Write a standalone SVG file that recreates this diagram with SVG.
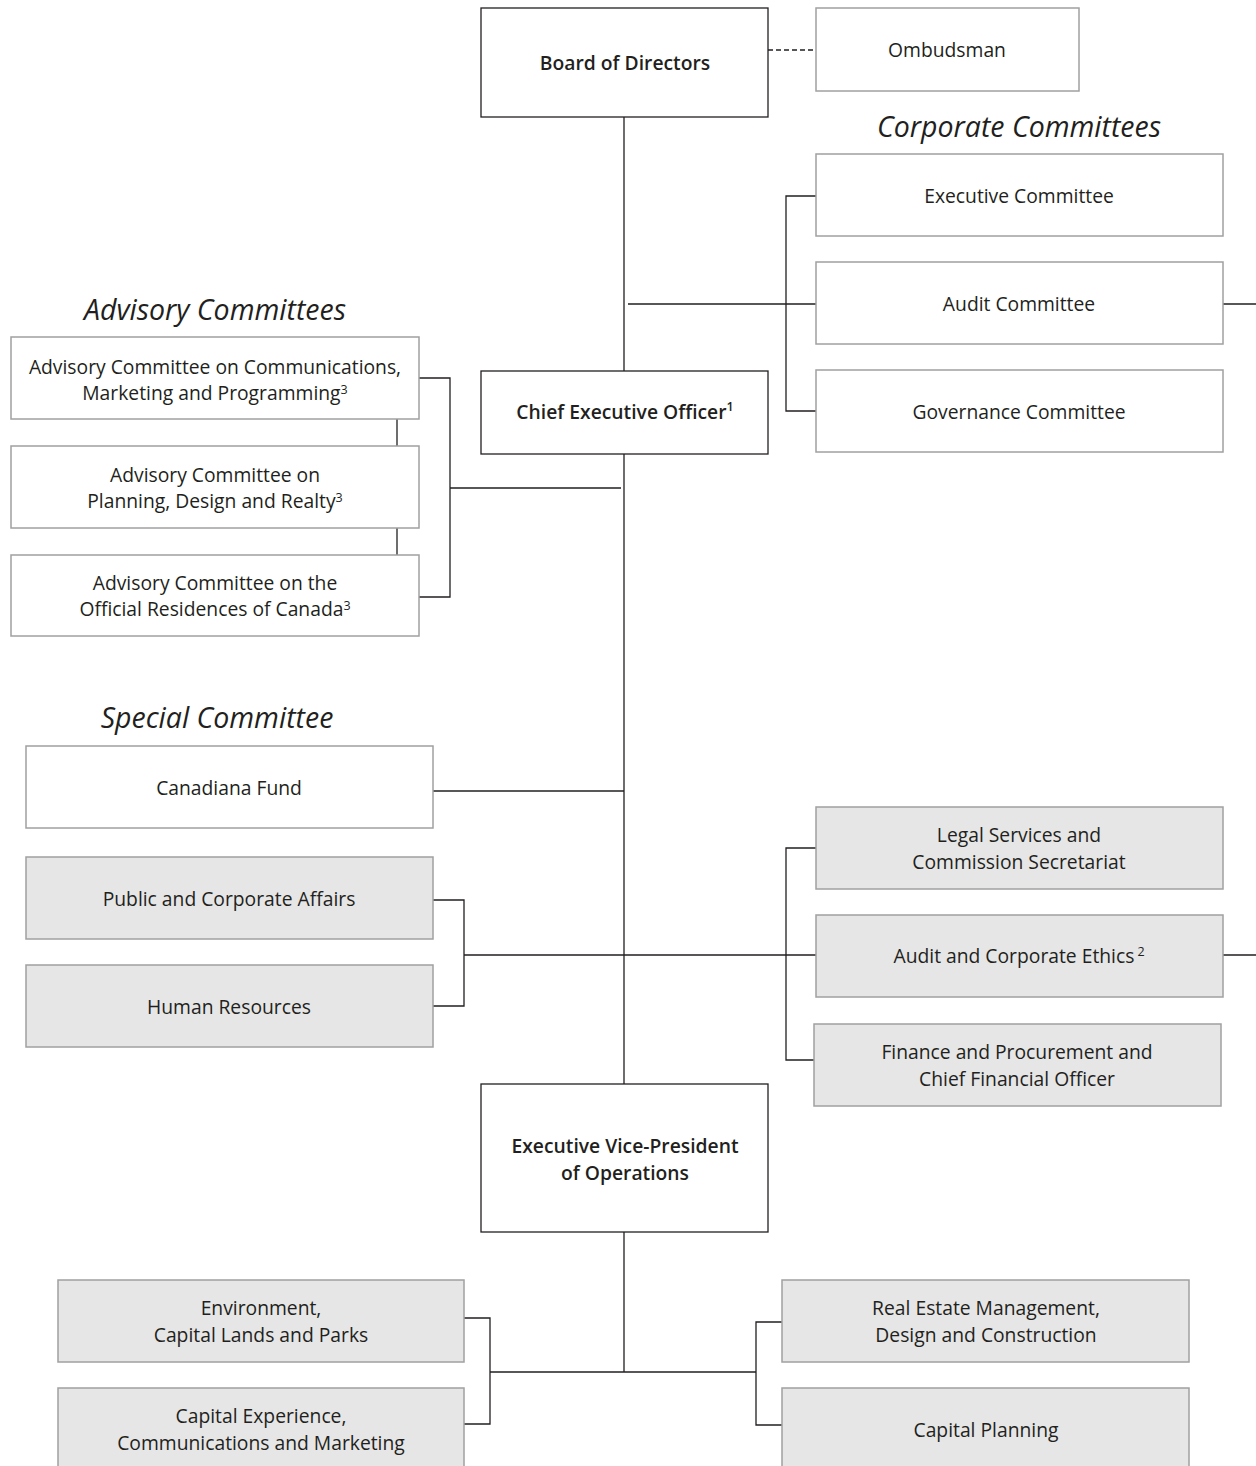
<svg xmlns="http://www.w3.org/2000/svg" width="1256" height="1466" viewBox="0 0 1256 1466">
<style>
text{font-family:"Open Sans","Noto Sans","Liberation Sans",sans-serif;font-size:19.3px;fill:#231f20;text-anchor:middle}
.b{font-weight:600}
.h{font-style:italic;font-size:28.5px}
.sup{font-size:12.5px}
.main{fill:#fff;stroke:#231f20;stroke-width:1.3}
.w{fill:#fff;stroke:#a0a0a0;stroke-width:1.5}
.g{fill:#e6e6e6;stroke:#a0a0a0;stroke-width:1.5}
.c{fill:none;stroke:#231f20;stroke-width:1.3}
</style>
<rect width="1256" height="1466" fill="#fff"/>
<g id="connectors">
<path class="c" d="M768 50H816" stroke-dasharray="5,3"/>
<path class="c" d="M624 117V371M624 454V1084M624 1232V1372"/>
<path class="c" d="M628 304H816M816 196H786V411H816M1223 304H1256"/>
<path class="c" d="M419 378H450V597H419M450 488H621M397 419V446M397 528V555"/>
<path class="c" d="M433 791H624"/>
<path class="c" d="M433 900H464V1006H433M464 955H816M816 848H786V1060H814M1223 955H1256"/>
<path class="c" d="M490 1372H756M464 1318H490V1424H464M782 1322H756V1425H782"/>
</g>
<text class="h" x="1019" y="137">Corporate Committees</text>
<text class="h" x="215" y="320">Advisory Committees</text>
<text class="h" x="217" y="728">Special Committee</text>
<g id="board"><rect class="main" x="481" y="8" width="287" height="109"/><text class="b" x="625" y="70">Board of Directors</text></g>
<g id="ombudsman"><rect class="w" x="816" y="8" width="263" height="83"/><text x="947" y="57">Ombudsman</text></g>
<g id="exec-committee"><rect class="w" x="816" y="154" width="407" height="82"/><text x="1019" y="203">Executive Committee</text></g>
<g id="audit-committee"><rect class="w" x="816" y="262" width="407" height="82"/><text x="1019" y="311">Audit Committee</text></g>
<g id="governance-committee"><rect class="w" x="816" y="370" width="407" height="82"/><text x="1019" y="419">Governance Committee</text></g>
<g id="ceo"><rect class="main" x="481" y="371" width="287" height="83"/><text class="b" x="625" y="419">Chief Executive Officer<tspan class="sup" font-size="10" dy="-8">1</tspan></text></g>
<g id="adv1"><rect class="w" x="11" y="337" width="408" height="82"/><text x="215" y="374">Advisory Committee on Communications,</text><text x="215" y="400">Marketing and Programming<tspan class="sup" dy="-6">3</tspan></text></g>
<g id="adv2"><rect class="w" x="11" y="446" width="408" height="82"/><text x="215" y="482">Advisory Committee on</text><text x="215" y="508">Planning, Design and Realty<tspan class="sup" dy="-6">3</tspan></text></g>
<g id="adv3"><rect class="w" x="11" y="555" width="408" height="81"/><text x="215" y="590">Advisory Committee on the</text><text x="215" y="616">Official Residences of Canada<tspan class="sup" dy="-6">3</tspan></text></g>
<g id="canadiana"><rect class="w" x="26" y="746" width="407" height="82"/><text x="229" y="795">Canadiana Fund</text></g>
<g id="public-affairs"><rect class="g" x="26" y="857" width="407" height="82"/><text x="229" y="906">Public and Corporate Affairs</text></g>
<g id="hr"><rect class="g" x="26" y="965" width="407" height="82"/><text x="229" y="1014">Human Resources</text></g>
<g id="legal"><rect class="g" x="816" y="807" width="407" height="82"/><text x="1019" y="842">Legal Services and</text><text x="1019" y="869">Commission Secretariat</text></g>
<g id="audit-ethics"><rect class="g" x="816" y="915" width="407" height="82"/><text x="1019" y="963">Audit and Corporate Ethics<tspan class="sup" dx="3" dy="-7">2</tspan></text></g>
<g id="finance"><rect class="g" x="814" y="1024" width="407" height="82"/><text x="1017" y="1059">Finance and Procurement and</text><text x="1017" y="1086">Chief Financial Officer</text></g>
<g id="evp"><rect class="main" x="481" y="1084" width="287" height="148"/><text class="b" x="625" y="1153">Executive Vice-President</text><text class="b" x="625" y="1180">of Operations</text></g>
<g id="environment"><rect class="g" x="58" y="1280" width="406" height="82"/><text x="261" y="1315">Environment,</text><text x="261" y="1342">Capital Lands and Parks</text></g>
<g id="capital-experience"><rect class="g" x="58" y="1388" width="406" height="90"/><text x="261" y="1423">Capital Experience,</text><text x="261" y="1450">Communications and Marketing</text></g>
<g id="real-estate"><rect class="g" x="782" y="1280" width="407" height="82"/><text x="986" y="1315">Real Estate Management,</text><text x="986" y="1342">Design and Construction</text></g>
<g id="capital-planning"><rect class="g" x="782" y="1388" width="407" height="90"/><text x="986" y="1437">Capital Planning</text></g>
</svg>
